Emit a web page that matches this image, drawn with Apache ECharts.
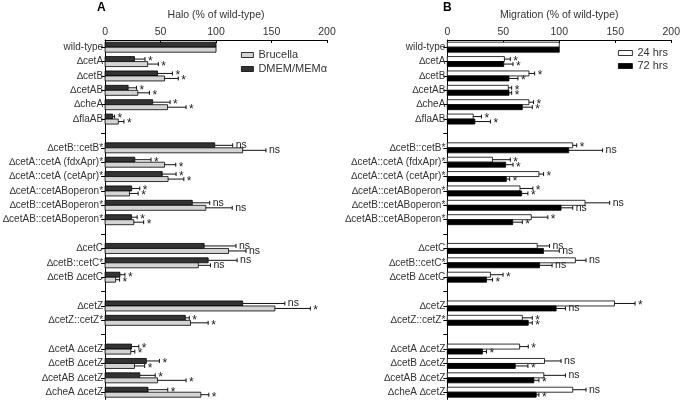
<!DOCTYPE html>
<html><head><meta charset="utf-8">
<script src="https://cdn.jsdelivr.net/npm/echarts@6/dist/echarts.min.js"></script>
<style>html,body{margin:0;padding:0;background:#fff}#c{width:683px;height:403px}</style>
</head><body><div id="c"></div>
<script>
const categories = ['wild-type','\u2206cetA','\u2206cetB','\u2206cetAB','\u2206cheA','\u2206flaAB',' ',
 '\u2206cetB::cetB*','\u2206cetA::cetA (fdxApr)*','\u2206cetA::cetA (cetApr)*','\u2206cetA::cetABoperon*','\u2206cetB::cetABoperon*','\u2206cetAB::cetABoperon*','  ',
 '\u2206cetC','\u2206cetB::cetC*','\u2206cetB \u2206cetC','   ',
 '\u2206cetZ','\u2206cetZ::cetZ*','    ',
 '\u2206cetA \u2206cetZ','\u2206cetB \u2206cetZ','\u2206cetAB \u2206cetZ','\u2206cheA \u2206cetZ'];
const xTicks = [0, 50, 100, 150, 200];

// Panel A: Halo
const haloDMEM      = [100,26.5,47.3,20.8,42.9,6.8,null, 98.8,26.8,51.5,24,78.6,23.8,null, 89.3,92.9,13.4,null, 124,72.3,null, 23.8,37.2,31.3,38.7];
const haloDMEMErr   = [0,9.5,13.4,7.5,15.7,1.8,null, 16.2,14.6,12.5,7.3,15.7,5.1,null, 28.7,26.1,4.5,null, 38,3.6,null, 6.6,11.8,13.9,17.8];
const haloDMEMSig   = ['','*','*','*','*','*','', 'ns','*','*','*','ns','*','', 'ns','ns','*','', 'ns','*','', '*','*','*','*'];
const haloBru       = [100,38.4,53.6,29.5,56.3,11.9,null, 124,53.6,56.8,22,90.8,25.9,null, 111.3,84,9.5,null, 153,77,null, 23.2,26.5,47.3,86.3];
const haloBruErr    = [0,9.6,12.4,10.5,16.7,5.1,null, 21,10.1,14.2,7.8,23.8,8.9,null, 15.7,11,3.6,null, 32,15.9,null, 3.6,9.2,25.7,7.2];
const haloBruSig    = ['','*','*','*','*','*','', 'ns','*','*','*','ns','*','', 'ns','ns','*','', '*','*','', '*','*','*','*'];

// Panel B: Migration
const mig24     = [100,51,72.9,54.5,72.9,23.1,null, 112,40.3,81.8,64.9,123,75,null, 80.3,114.4,38.5,null, 149.3,67,null, 64.6,86.8,86.2,112];
const mig24Err  = [0,5.3,5.1,3,4.1,7.4,null, 3.6,16,4.2,11.5,22,14.8,null, 11,9.5,11.3,null, 18.4,8.9,null, 7.7,14.8,19.3,11.9];
const mig24Sig  = ['','*','*','*','*','*','', '*','*','*','*','ns','*','', 'ns','ns','*','', '*','*','', '*','ns','ns','ns'];
const mig72     = [100,50.4,55.1,55.1,67,24.6,null, 108.4,52.1,52.7,66.4,101.6,58.4,null, 85.9,82.4,35,null, 97.2,72.3,null, 31.4,60.7,77.3,79.4];
const mig72Err  = [0,8.3,8,2.4,8.9,13.9,null, 30.3,6.6,3,5.6,10.4,8.6,null, 14.1,11.2,5.3,null, 8.3,3.6,null, 3.6,11.3,4.5,2.4];
const mig72Sig  = ['','*','*','*','*','*','', 'ns','*','*','*','ns','*','', 'ns','ns','*','', 'ns','*','', '*','*','*','*'];

function buildData(vals, errs){
  const out = [];
  vals.forEach((v,i)=>{ if(v!==null) out.push([v, i, errs[i]]); });
  return out;
}
function makeSeries(name, idx, vals, errs, sigs, fill, pos){
  return {
    type:'custom', name:name, xAxisIndex:idx, yAxisIndex:idx,
    itemStyle:{color:fill, borderColor:'#000', borderWidth:0.8},
    encode:{x:0, y:1},
    data: buildData(vals, errs),
    renderItem: function(params, api){
      const v = api.value(0), i = api.value(1), e = api.value(2);
      const c0 = api.coord([0, i]);
      const c1 = api.coord([v, i]);
      const ce = api.coord([v + e, i]);
      const bh = 5;
      const yTop = pos === 'top' ? c0[1] - bh : c0[1];
      const ym = yTop + bh/2;
      const children = [{
        type:'rect', shape:{x:c0[0], y:yTop, width:c1[0]-c0[0], height:bh},
        style:{fill:fill, stroke:'#000', lineWidth:0.8}
      }];
      if(e > 0){
        children.push({type:'line', shape:{x1:c1[0], y1:ym, x2:ce[0], y2:ym}, style:{stroke:'#111', lineWidth:1}});
        children.push({type:'line', shape:{x1:ce[0], y1:yTop+0.5, x2:ce[0], y2:yTop+bh-0.5}, style:{stroke:'#111', lineWidth:1}});
      }
      const s = sigs[i];
      if(s){
        children.push({type:'text', x: ce[0] + 3, y: ym + (s==='*' ? 2.5 : 0),
          style:{text:s, fill:'#222', fontSize: s==='*' ? 12 : 10.5, fontFamily:'Liberation Sans, Arial, sans-serif', verticalAlign:'middle', align:'left'}});
      }
      return {type:'group', children:children};
    }
  };
}

const font = 'Liberation Sans, Arial, sans-serif';
function xAxis(idx, name){
  return {
    type:'value', gridIndex:idx, position:'top', min:xTicks[0], max:xTicks[xTicks.length-1], interval:50,
    name:name, nameLocation:'middle', nameGap:19, nameMoveOverlap:false,
    nameTextStyle:{fontSize:10.5, color:'#333', fontFamily:font},
    axisLine:{show:true, lineStyle:{color:'#000', width:1}},
    axisTick:{show:true, inside:true, length:3, lineStyle:{color:'#000'}},
    axisLabel:{margin:2, fontSize:10.5, color:'#333', fontFamily:font},
    splitLine:{show:false}
  };
}
function yAxis(idx){
  return {
    type:'category', gridIndex:idx, inverse:true, data:categories,
    axisLine:{show:true, lineStyle:{color:'#000', width:1}},
    axisTick:{show:true, alignWithLabel:true, interval:0, length:4, lineStyle:{color:'#000'}},
    axisLabel:{interval:0, margin:2, fontSize:10, color:'#333', fontFamily:font},
    splitLine:{show:false}
  };
}

const option = {
  animation:false,
  backgroundColor:'#fff',
  title:[
    {text:'A', left:97, top:2, padding:0, textStyle:{fontSize:12, fontWeight:'bold', color:'#000', fontFamily:font}},
    {text:'B', left:443, top:2, padding:0, textStyle:{fontSize:12, fontWeight:'bold', color:'#000', fontFamily:font}}
  ],
  grid:[
    {left:103, right:356, top:40, bottom:3.6},
    {left:447.3, right:10.7, top:40, bottom:3.6}
  ],
  xAxis:[xAxis(0,'Halo (% of wild-type)'), xAxis(1,'Migration (% of wild-type)')],
  yAxis:[yAxis(0), yAxis(1)],
  legend:[
    {data:['Brucella','DMEM/MEM\u03b1'], orient:'vertical', left:241, top:49, padding:0, itemWidth:12, itemHeight:5, itemGap:2,
     icon:'rect', itemStyle:{borderWidth:0.8, borderColor:'#000'},
     textStyle:{fontSize:11, color:'#333', fontFamily:font, lineHeight:12}, selectedMode:false},
    {data:['24 hrs','72 hrs'], orient:'vertical', left:618, top:47, padding:0, itemWidth:14, itemHeight:5, itemGap:1,
     icon:'rect', itemStyle:{borderWidth:0.8, borderColor:'#000'},
     textStyle:{fontSize:11, color:'#333', fontFamily:font, lineHeight:12}, selectedMode:false}
  ],
  series:[
    makeSeries('DMEM/MEM\u03b1', 0, haloDMEM, haloDMEMErr, haloDMEMSig, '#333333', 'top'),
    makeSeries('Brucella', 0, haloBru, haloBruErr, haloBruSig, '#d4d4d4', 'bottom'),
    makeSeries('24 hrs', 1, mig24, mig24Err, mig24Sig, '#ffffff', 'top'),
    makeSeries('72 hrs', 1, mig72, mig72Err, mig72Sig, '#000000', 'bottom')
  ]
};
const chart = echarts.init(document.getElementById('c'), null, {renderer:'canvas'});
chart.setOption(option);
</script></body></html>
